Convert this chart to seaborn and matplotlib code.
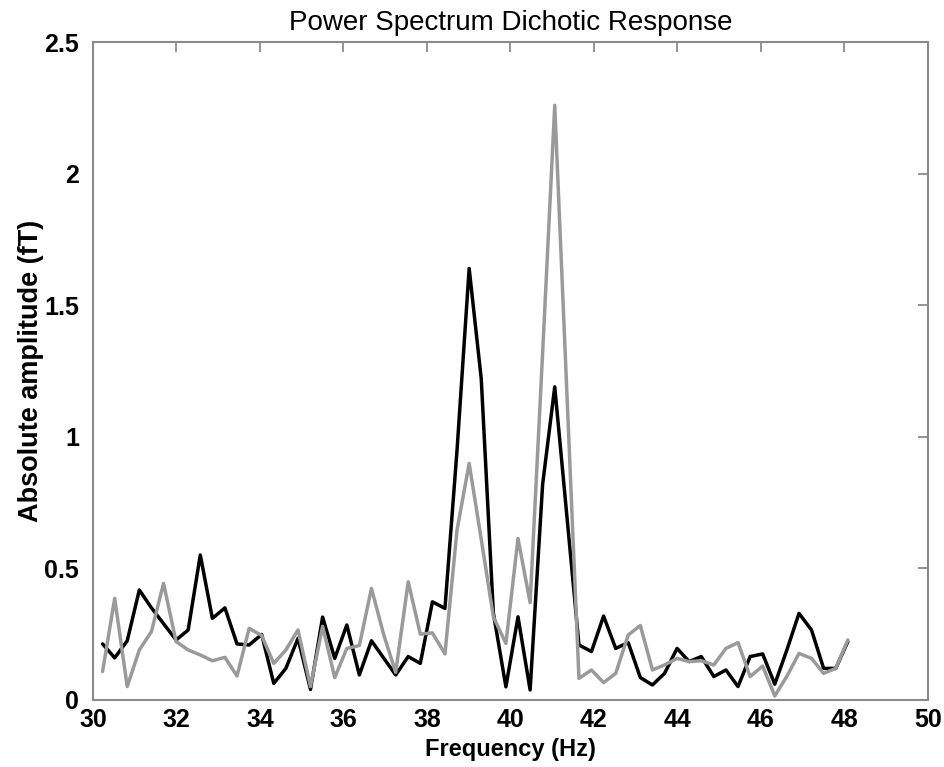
import numpy as np
import pandas as pd
import matplotlib
matplotlib.use("Agg")
import matplotlib.pyplot as plt
import seaborn as sns

freq = [30.23, 30.52, 30.82, 31.11, 31.40, 31.69, 31.99, 32.28, 32.57, 32.86,
        33.16, 33.45, 33.74, 34.04, 34.33, 34.62, 34.91, 35.21, 35.50, 35.79,
        36.08, 36.38, 36.67, 36.96, 37.25, 37.55, 37.84, 38.13, 38.43, 38.72,
        39.01, 39.30, 39.59, 39.89, 40.18, 40.47, 40.77, 41.06, 41.35, 41.64,
        41.94, 42.23, 42.52, 42.82, 43.11, 43.40, 43.69, 43.99, 44.28, 44.57,
        44.87, 45.16, 45.45, 45.74, 46.04, 46.33, 46.62, 46.91, 47.21, 47.50,
        47.79, 48.08]

black_series = [0.213, 0.160, 0.225, 0.418, 0.35, 0.29, 0.228, 0.266, 0.551, 0.31,
                0.35, 0.213, 0.209, 0.249, 0.063, 0.12, 0.234, 0.04, 0.315, 0.158,
                0.285, 0.095, 0.225, 0.160, 0.095, 0.165, 0.139, 0.373, 0.348, 0.95,
                1.64, 1.22, 0.33, 0.05, 0.316, 0.038, 0.82, 1.19, 0.70, 0.209,
                0.184, 0.319, 0.196, 0.218, 0.085, 0.057, 0.101, 0.196, 0.146, 0.165,
                0.089, 0.114, 0.051, 0.165, 0.175, 0.06, 0.19, 0.329, 0.266, 0.12,
                0.12, 0.222]

gray_series = [0.108, 0.386, 0.051, 0.19, 0.26, 0.443, 0.222, 0.19, 0.171, 0.149,
               0.162, 0.091, 0.272, 0.245, 0.139, 0.19, 0.266, 0.051, 0.28, 0.085,
               0.196, 0.207, 0.424, 0.25, 0.105, 0.449, 0.25, 0.255, 0.175, 0.646,
               0.899, 0.61, 0.316, 0.215, 0.614, 0.37, 1.32, 2.26, 1.17, 0.082,
               0.114, 0.066, 0.101, 0.247, 0.283, 0.114, 0.133, 0.158, 0.146, 0.149,
               0.133, 0.196, 0.218, 0.089, 0.129, 0.015, 0.09, 0.177, 0.158, 0.101,
               0.12, 0.228]

x_ticks = [30, 32, 34, 36, 38, 40, 42, 44, 46, 48, 50]
y_ticks = [0, 0.5, 1, 1.5, 2, 2.5]
y_tick_labels = ["0", "0.5", "1", "1.5", "2", "2.5"]

df = pd.DataFrame({
    "freq": freq * 2,
    "amp": black_series + gray_series,
    "series": ["black"] * len(freq) + ["gray"] * len(freq),
})

sns.set_style("white")
plt.rcParams['font.family'] = ['Liberation Sans', 'DejaVu Sans']
plt.rcParams['text.color'] = 'black'
plt.rcParams['axes.labelcolor'] = 'black'

fig = plt.figure(figsize=(9.45, 7.67), dpi=100)
ax = fig.add_axes([0.0984, 0.0874, 0.8836, 0.8576])

sns.lineplot(data=df, x="freq", y="amp", hue="series",
             palette={"black": "#000000", "gray": "#9a9a9a"},
             linewidth=2.5, legend=False, ax=ax, estimator=None, sort=False)

ax.set_xlim(30, 50)
ax.set_ylim(0, 2.5)
ax.set_xticks(x_ticks)
ax.set_xticklabels([str(t) for t in x_ticks], fontsize=18, fontweight="bold")
ax.set_yticks(y_ticks)
ax.set_yticklabels(y_tick_labels, fontsize=18, fontweight="bold")
ax.tick_params(direction="in", length=7, width=1.2, color="#808080",
               labelcolor="black", top=True, right=True)
ax.tick_params(axis="x", pad=6)
ax.tick_params(axis="y", pad=10)
for s in ax.spines.values():
    s.set_color("#8a8a8a")
    s.set_linewidth(1.5)
    s.set_visible(True)

ax.set_xlabel("Frequency (Hz)", fontsize=17, fontweight="bold", labelpad=4, color="black")
ax.set_ylabel("Absolute amplitude (fT)", fontsize=19.5, fontweight="bold", labelpad=0, color="black")
ax.set_title("Power Spectrum Dichotic Response", fontsize=20, pad=9, color="black")

fig.savefig("out.png", dpi=100)
